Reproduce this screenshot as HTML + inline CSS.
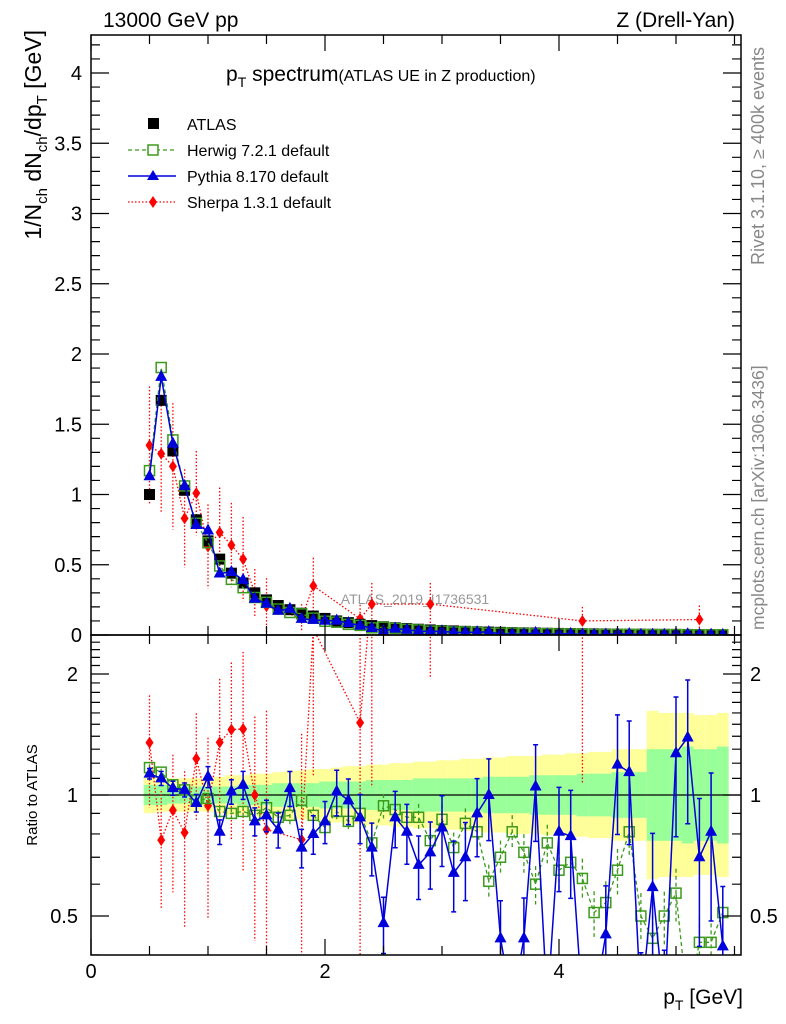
<!DOCTYPE html>
<html><head><meta charset="utf-8"><style>
html,body{margin:0;background:#fff;overflow:hidden;width:786px;height:1024px;}
svg{display:block;font-family:"Liberation Sans",sans-serif;}
</style></head><body>
<svg id="c" width="786" height="1024" xmlns="http://www.w3.org/2000/svg">
<text x="103" y="27" font-size="21">13000 GeV pp</text>
<text x="735" y="27" font-size="21" text-anchor="end">Z (Drell-Yan)</text>
<text x="226" y="81" font-size="21">p<tspan font-size="14" dy="6">T</tspan><tspan dy="-6"> spectrum</tspan><tspan font-size="16">(ATLAS UE in Z production)</tspan></text>
<text x="415" y="604" font-size="14" fill="#999" text-anchor="middle">ATLAS_2019_I1736531</text>
<text transform="translate(41,30) rotate(-90)" font-size="23" text-anchor="end">1/N<tspan font-size="15" dy="6">ch</tspan><tspan dy="-6"> dN</tspan><tspan font-size="15" dy="6">ch</tspan><tspan dy="-6">/dp</tspan><tspan font-size="15" dy="6">T</tspan><tspan dy="-6"> [GeV]</tspan></text>
<text transform="translate(37,795) rotate(-90)" font-size="15" text-anchor="middle">Ratio to ATLAS</text>
<text transform="translate(764,265) rotate(-90)" font-size="18" fill="#888">Rivet 3.1.10, ≥ 400k events</text>
<text transform="translate(764,630) rotate(-90)" font-size="17.5" fill="#888">mcplots.cern.ch [arXiv:1306.3436]</text>
<text x="743" y="1004" font-size="21" text-anchor="end">p<tspan font-size="14" dy="6">T</tspan><tspan dy="-6"> [GeV]</tspan></text>
<g id="legend">
<g><rect x="148" y="118" width="11" height="11" fill="#000"/><text x="187" y="130" font-size="16">ATLAS</text></g>
<g><line x1="128" y1="150" x2="176" y2="150" stroke="#3a9a1a" stroke-dasharray="4,3" stroke-width="1.3"/><rect x="148" y="145" width="10" height="10" fill="#fff" stroke="#3a9a1a" stroke-width="1.5"/><text x="187" y="156" font-size="16">Herwig 7.2.1 default</text></g>
<g><line x1="128" y1="176" x2="176" y2="176" stroke="#0000dd" stroke-width="1.5"/><polygon points="153,170 159,180 147,180" fill="#0000dd"/><text x="187" y="182" font-size="16">Pythia 8.170 default</text></g>
<g><line x1="128" y1="202" x2="176" y2="202" stroke="#f00" stroke-dasharray="1.5,2" stroke-width="1.3"/><polygon points="153,196 157,202 153,208 149,202" fill="#f00"/><text x="187" y="208" font-size="16">Sherpa 1.3.1 default</text></g>
</g>
</svg>
<script>
const xs=[0.5,0.6,0.7,0.8,0.9,1.0,1.1,1.2,1.3,1.4,1.5,1.6,1.7,1.8,1.9,2.0,2.1,2.2,2.3,2.4,2.5,2.6,2.7,2.8,2.9,3.0,3.1,3.2,3.3,3.4,3.5,3.6,3.7,3.8,3.9,4.0,4.1,4.2,4.3,4.4,4.5,4.6,4.7,4.8,4.9,5.0,5.1,5.2,5.3,5.4];
const atlas=[1.0,1.67,1.31,1.03,0.82,0.67,0.54,0.44,0.37,0.30,0.25,0.21,0.18,0.155,0.135,0.118,0.10,0.088,0.076,0.067,0.059,0.052,0.046,0.041,0.036,0.032,0.029,0.026,0.023,0.021,0.019,0.017,0.015,0.014,0.0125,0.0113,0.0102,0.0093,0.0084,0.0076,0.0069,0.0063,0.0057,0.0052,0.0048,0.0044,0.004,0.0037,0.0034,0.0031];
const herwigRatio=[1.17,1.14,1.06,1.03,0.97,0.98,0.91,0.9,0.91,0.89,0.93,0.88,0.89,0.97,0.89,0.83,0.91,0.86,0.9,0.76,0.94,0.92,0.88,0.88,0.77,0.87,0.74,0.85,0.81,0.61,0.70,0.81,0.72,0.60,0.76,0.65,0.68,0.62,0.51,0.54,0.65,0.81,0.50,0.44,0.50,0.57,0.30,0.43,0.43,0.51];
const herwigErr=[0.02,0.02,0.02,0.02,0.02,0.03,0.03,0.03,0.03,0.04,0.04,0.04,0.05,0.05,0.05,0.05,0.06,0.06,0.06,0.07,0.07,0.07,0.08,0.08,0.08,0.09,0.09,0.09,0.1,0.1,0.1,0.1,0.11,0.11,0.11,0.12,0.12,0.12,0.13,0.13,0.13,0.14,0.14,0.14,0.15,0.15,0.15,0.16,0.16,0.16];
const pythiaRatio=[1.13,1.10,1.04,1.03,0.955,1.11,0.81,1.02,1.06,0.86,0.89,0.82,1.04,0.74,0.80,0.86,1.02,0.97,0.88,0.74,0.48,0.88,0.81,0.67,0.72,0.83,0.64,0.70,0.90,1.0,0.44,0.30,0.44,1.05,0.30,0.81,0.79,0.30,0.30,0.45,1.19,1.14,0.30,0.59,0.30,1.27,1.39,0.70,0.81,0.42];
const pythiaErr=[0.03,0.04,0.04,0.04,0.05,0.06,0.07,0.07,0.08,0.08,0.09,0.1,0.1,0.11,0.11,0.12,0.13,0.13,0.14,0.15,0.16,0.16,0.17,0.18,0.19,0.2,0.2,0.22,0.22,0.23,0.24,0.25,0.26,0.27,0.28,0.29,0.3,0.3,0.31,0.32,0.33,0.34,0.35,0.36,0.37,0.38,0.39,0.4,0.4,0.41];
const statErr=[0.06,0.06,0.05,0.05,0.05,0.05,0.05,0.05,0.06,0.06,0.06,0.07,0.07,0.07,0.07,0.08,0.08,0.08,0.08,0.09,0.09,0.09,0.09,0.1,0.1,0.1,0.1,0.1,0.1,0.11,0.11,0.11,0.11,0.12,0.12,0.12,0.12,0.13,0.13,0.13,0.14,0.14,0.14,0.3,0.3,0.3,0.32,0.3,0.3,0.32];
const totErr=[0.11,0.1,0.1,0.1,0.1,0.1,0.11,0.12,0.12,0.13,0.13,0.14,0.15,0.15,0.16,0.16,0.17,0.18,0.18,0.19,0.19,0.2,0.2,0.21,0.21,0.22,0.22,0.23,0.23,0.24,0.24,0.25,0.25,0.25,0.26,0.26,0.27,0.27,0.28,0.28,0.3,0.3,0.3,0.62,0.6,0.6,0.6,0.58,0.58,0.6];
const sherpaX=[0.5,0.6,0.7,0.8,0.9,1.0,1.1,1.2,1.3,1.4,1.5,1.8,1.9,2.3,2.4,2.9,4.2,5.2];
const sherpaY=[1.35,1.29,1.2,0.83,1.01,0.63,0.73,0.64,0.54,0.30,0.205,0.12,0.35,0.115,0.22,0.22,0.1,0.11];
const sherpaErr=[0.42,0.42,0.45,0.35,0.3,0.3,0.32,0.3,0.3,0.17,0.2,0.1,0.2,0.1,0.15,0.15,0.1,0.1];
const xTicks=[0,2,4];
const yTicks=[0,0.5,1,1.5,2,2.5,3,3.5,4];
const yTickLabels=["0","0.5","1","1.5","2","2.5","3","3.5","4"];
const rTicks=[0.5,1,2];
const rTickLabels=["0.5","1","2"];

const NS="http://www.w3.org/2000/svg",svg=document.getElementById('c');
const L=91,R=741,T=35,M=635,B=955;
const X=v=>L+v*117;
const Y=v=>635-v*140.5;
const RY=v=>795-Math.log2(v)*121;
function mk(tag,at,parent){const e=document.createElementNS(NS,tag);for(const k in at)e.setAttribute(k,at[k]);(parent||svg).appendChild(e);return e;}
const clipD=mk('defs',{});
const cp1=mk('clipPath',{id:'cm'},clipD);mk('rect',{x:L,y:T,width:R-L,height:M-T},cp1);
const cp2=mk('clipPath',{id:'cr'},clipD);mk('rect',{x:L,y:M,width:R-L,height:B-M},cp2);
const gm=mk('g',{'clip-path':'url(#cm)'});


const gr=mk('g',{'clip-path':'url(#cr)'});


const hw=0.05;
xs.forEach((x,i)=>{
 const y1=mk('rect',{x:X(x-hw),width:X(x+hw)-X(x-hw),y:RY(1+totErr[i]),height:RY(1/(1+totErr[i]))-RY(1+totErr[i]),fill:'#ffff99'},gr);
 
 
});
xs.forEach((x,i)=>{
 const g1=mk('rect',{x:X(x-hw),width:X(x+hw)-X(x-hw),y:RY(1+statErr[i]),height:RY(1/(1+statErr[i]))-RY(1+statErr[i]),fill:'#99ff99'},gr);
 
 
});
const one=mk('line',{x1:L,x2:R,y1:RY(1),y2:RY(1),stroke:'#000','stroke-width':1.2},gr);


const sherpaR=sherpaY.map((v,i)=>v/atlas[xs.findIndex(x=>Math.abs(x-sherpaX[i])<1e-6)]);
const sStyle={stroke:'#f00',fill:'none','stroke-width':1.3,'stroke-dasharray':'1.5,2'};
const sl=mk('polyline',Object.assign({points:sherpaX.map((x,i)=>X(x)+','+Y(sherpaY[i])).join(' ')},sStyle),gm);


const slr=mk('polyline',Object.assign({points:sherpaX.map((x,i)=>X(x)+','+RY(sherpaR[i])).join(' ')},sStyle),gr);


sherpaX.forEach((x,i)=>{
 const e=mk('line',Object.assign({x1:X(x),x2:X(x),y1:Y(sherpaY[i]+sherpaErr[i]),y2:Y(Math.max(0,sherpaY[i]-sherpaErr[i]))},sStyle),gm);
 
 
 const lo=Math.max(0.01,sherpaY[i]-sherpaErr[i])/sherpaY[i],hi=(sherpaY[i]+sherpaErr[i])/sherpaY[i];
 const er=mk('line',Object.assign({x1:X(x),x2:X(x),y1:RY(sherpaR[i]*hi),y2:RY(sherpaR[i]*lo)},sStyle),gr);
 
 
 [[gm,Y(sherpaY[i])],[gr,RY(sherpaR[i])]].forEach(([g,yy])=>{
  const d=mk('polygon',{points:`${X(x)},${yy-6} ${X(x)+4},${yy} ${X(x)},${yy+6} ${X(x)-4},${yy}`,fill:'#f00'},g);
  
  
 });
});
xs.forEach((x,i)=>{
 const r=mk('rect',{x:X(x)-5.5,y:Y(atlas[i])-5.5,width:11,height:11,fill:'#000'},gm);
 
 
});
const herwig=atlas.map((a,i)=>a*herwigRatio[i]);
const hStyle={stroke:'#3a9a1a',fill:'none','stroke-width':1.3,'stroke-dasharray':'4,3'};
const hl=mk('polyline',Object.assign({points:xs.map((x,i)=>X(x)+','+Y(herwig[i])).join(' ')},hStyle),gm);


const hlr=mk('polyline',Object.assign({points:xs.map((x,i)=>X(x)+','+RY(herwigRatio[i])).join(' ')},hStyle),gr);


xs.forEach((x,i)=>{
 const e=mk('line',Object.assign({x1:X(x),x2:X(x),y1:RY(herwigRatio[i]*(1+herwigErr[i])),y2:RY(herwigRatio[i]*(1-herwigErr[i]))},hStyle),gr);
 
 
 [[gm,Y(herwig[i])],[gr,RY(herwigRatio[i])]].forEach(([g,yy])=>{
  const s=mk('rect',{x:X(x)-5,y:yy-5,width:10,height:10,fill:'none',stroke:'#3a9a1a','stroke-width':1.5},g);
  
  
 });
});
const pythia=atlas.map((a,i)=>a*pythiaRatio[i]);
const pStyle={stroke:'#0000dd',fill:'none','stroke-width':1.5};
const pl=mk('polyline',Object.assign({points:xs.map((x,i)=>X(x)+','+Y(pythia[i])).join(' ')},pStyle),gm);


const plr=mk('polyline',Object.assign({points:xs.map((x,i)=>X(x)+','+RY(pythiaRatio[i])).join(' ')},pStyle),gr);


xs.forEach((x,i)=>{
 const y1=RY(pythiaRatio[i]*(1+pythiaErr[i])),y2=RY(pythiaRatio[i]*(1-pythiaErr[i]));
 const e=mk('path',Object.assign({d:`M${X(x)},${y1}V${y2}M${X(x)-2.5},${y1}h5M${X(x)-2.5},${y2}h5`},pStyle),gr);
 
 
 [[gm,Y(pythia[i])],[gr,RY(pythiaRatio[i])]].forEach(([g,yy])=>{
  const t=mk('polygon',{points:`${X(x)},${yy-7} ${X(x)+6},${yy+4} ${X(x)-6},${yy+4}`,fill:'#0000dd'},g);
  
  
 });
});
const f1=mk('rect',{x:L,y:T,width:R-L,height:M-T,fill:'none',stroke:'#000','stroke-width':1.5});


const f2=mk('rect',{x:L,y:M,width:R-L,height:B-M,fill:'none',stroke:'#000','stroke-width':1.5});


const tk=mk('g',{stroke:'#000','stroke-width':1.2});


let d='';
for(let v=0;v<=5.5;v+=0.5){const xx=X(v),len=(Math.abs(v%2)<1e-6)?16:9;d+=`M${xx},${M}v-${len}M${xx},${T}v${len}M${xx},${B}v-${len}M${xx},${M}v${len}`;}
for(let k=0;k<=42;k++){const v=k*0.1,yy=Y(v);if(yy<T)break;const len=(k%5===0)?18:9;d+=`M${L},${yy}h${len}M${R},${yy}h-${len}`;}
for(let k=4;k<=25;k++){const v=k/10,yy=RY(v);const len=(k===5||k===10||k===20)?18:9;d+=`M${L},${yy}h${len}M${R},${yy}h-${len}`;}
mk('path',{d},tk);
yTicks.forEach((v,i)=>{const t=mk('text',{x:82,y:Y(v)+7,'font-size':20,'text-anchor':'end'});t.textContent=yTickLabels[i];
 
 });
rTicks.forEach((v,i)=>{const t=mk('text',{x:78,y:RY(v)+7,'font-size':20,'text-anchor':'end'});t.textContent=rTickLabels[i];
 
 
 const t2=mk('text',{x:750,y:RY(v)+7,'font-size':20});t2.textContent=rTickLabels[i];
 
 });
xTicks.forEach(v=>{const t=mk('text',{x:X(v),y:978,'font-size':20,'text-anchor':'middle'});t.textContent=String(v);
 
 });
</script>
</body></html>
